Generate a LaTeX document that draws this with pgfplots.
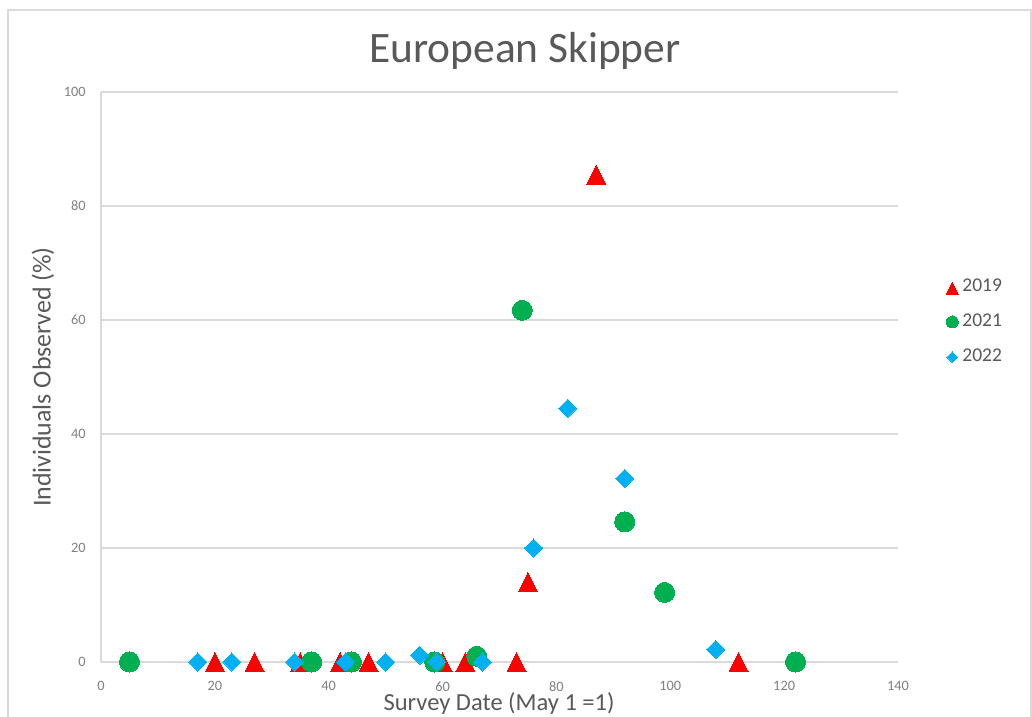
\documentclass[border=0pt]{standalone}
\usepackage{fontspec}
\setmainfont{Carlito}
\usepackage{pgfplots}
\pgfplotsset{compat=1.18}
\definecolor{txtgray}{HTML}{595959}
\definecolor{tickgray}{HTML}{808080}
\definecolor{gridgray}{HTML}{D9D9D9}
\definecolor{framegray}{HTML}{D9D9D9}
\definecolor{xlred}{HTML}{FF0000}
\definecolor{xlgreen}{HTML}{00B050}
\definecolor{xlblue}{HTML}{00B0F0}
\pgfplotsset{mylegend/.style={legend image code/.code={\draw[##1] plot coordinates {(0bp,0bp)};}}}

\pgfplotstableread{
x y
20 0
27 0
35 0
42 0
47 0
60 0
64 0
73 0
75 14
87 85.5
112 0
}\dataA
\pgfplotstableread{
x y
5 0
37 0
44 0
58.6 0
66 1
74 61.7
92 24.6
99 12.2
122 0
}\dataB
\pgfplotstableread{
x y
17 0
23 0
34 0
43 0
50 0
56 1.2
59 0
67 0
76 20
82 44.5
92 32.2
108 2.2
}\dataC

\begin{document}
\begin{tikzpicture}
\path[use as bounding box] (0,0) rectangle (516bp,358.5bp);
\fill[white] (0,0) rectangle (516bp,358.5bp);
\draw[framegray, line width=0.75bp] (4bp,-2bp) -- (4bp,353.5bp) -- (515.5bp,353.5bp) -- (515.5bp,-2bp);
\begin{axis}[
  at={(50.5bp,27.5bp)}, anchor=south west,
  scale only axis, width=398.5bp, height=285bp,
  xmin=0, xmax=140, ymin=0, ymax=100,
  xtick={0,20,...,140}, ytick={0,20,...,100},
  axis lines*=left,
  axis line style={draw=gridgray, line width=0.75bp, -},
  ymajorgrids,
  grid style={draw=gridgray, line width=0.75bp},
  tick style={draw=none},
  clip=false,
  /pgf/number format/assume math mode=true,
  ticklabel style={font=\fontsize{7.2}{8}\selectfont, text=tickgray, inner sep=0pt},
  yticklabel style={xshift=-7.5bp},
  xticklabel style={yshift=-9.5bp},
  title={European Skipper},
  title style={at={(axis description cs:0.532,1.072)}, anchor=center, yshift=-6pt, font=\fontsize{21.8}{25}\selectfont, text=txtgray, inner sep=0pt},
  xlabel={Survey Date (May 1 =1)},
  xlabel style={at={(axis description cs:0.4994,-0.0737)}, anchor=center, font=\fontsize{12.3}{14}\selectfont, text=txtgray, inner sep=0pt},
  ylabel={Individuals Observed (\%)},
  ylabel style={at={(axis description cs:-0.0728,0.5)}, anchor=center, rotate=0, font=\fontsize{13}{15}\selectfont, text=txtgray, inner sep=0pt},
  legend style={at={(axis description cs:1.098,0.5965)}, anchor=center, draw=none, fill=none,
    font=\fontsize{9.8}{11}\selectfont, text=txtgray, row sep=5.75bp, inner sep=0pt,
    cells={anchor=west}},
]
\addplot[only marks, color=xlred, mark=triangle*, mark size=5.5bp,
  mark options={draw=xlred, fill=xlred, line width=0pt, yshift=-1.6bp, yscale=1.15},
  mylegend, legend image post style={mark size=3.5bp}] table[x=x,y=y] {\dataA};
\addlegendentry{2019}
\addplot[only marks, color=xlgreen, mark=*, mark size=5bp,
  mark options={draw=xlgreen, fill=xlgreen, line width=0pt},
  mylegend, legend image post style={mark size=3bp}] table[x=x,y=y] {\dataB};
\addlegendentry{2021}
\addplot[only marks, color=xlblue, mark=square*, mark size=3.2bp,
  mark options={draw=xlblue, fill=xlblue, line width=0pt, rotate=45},
  mylegend, legend image post style={mark size=1.9bp}] table[x=x,y=y] {\dataC};
\addlegendentry{2022}
\end{axis}
\end{tikzpicture}
\end{document}
